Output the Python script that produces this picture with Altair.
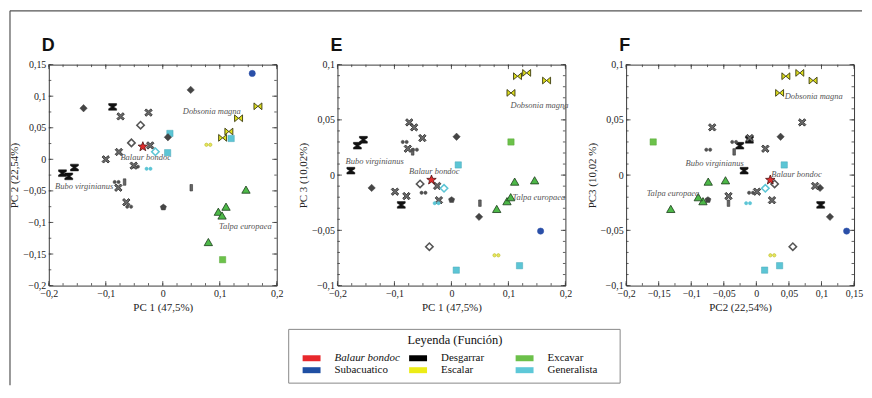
import altair as alt
import pandas as pd

# ---------------- data ----------------
kinds = ["sub", "g_dia", "g_dia", "desg", "g_x", "g_x", "esc_bow", "esc_bow", "esc_bow", "esc_bow",
         "gen_sq", "gen_sq", "g_dia", "g_odia", "g_odia", "balaur", "g_x", "gen_dia", "gen_sq", "esc_oo",
         "g_x", "g_x", "g_oo", "gen_oo", "desg", "desg", "desg", "g_oo", "g_bar", "g_x",
         "g_bar", "g_x", "g_oo", "g_pent", "exc_tri", "exc_tri", "exc_tri", "exc_tri", "exc_tri", "exc_sq",
         "g_x"]

D_x = [0.157, 0.049, -0.139, -0.088, -0.074, -0.025, 0.167, 0.133, 0.116, 0.105,
       0.120, 0.0125, 0.009, -0.039, -0.055, -0.035, -0.022, -0.013, 0.0085, 0.080,
       -0.077, -0.100, -0.047, -0.025, -0.176, -0.165, -0.155, -0.081, -0.067, -0.078,
       0.050, -0.064, -0.059, 0.001, 0.146, 0.0975, 0.104, 0.111, 0.080, 0.105,
       -0.051]
D_y = [0.136, 0.110, 0.081, 0.083, 0.068, 0.074, 0.084, 0.065, 0.044, 0.034,
       0.033, 0.041, 0.035, 0.054, 0.026, 0.020, 0.022, 0.012, 0.0105, 0.023,
       0.0116, 0.0, -0.0116, -0.015, -0.022, -0.027, -0.013, -0.036, -0.036, -0.045,
       -0.045, -0.068, -0.075, -0.076, -0.048, -0.083, -0.089, -0.075, -0.131, -0.159,
       -0.010]

E_x = [0.1565, 0.0485, -0.140, -0.088, -0.074, -0.025, 0.167, 0.132, 0.116, 0.1045,
       0.1195, 0.012, 0.009, -0.0387, -0.055, -0.035, -0.022, -0.013, 0.0085, 0.079,
       -0.0765, -0.099, -0.049, -0.026, -0.1765, -0.165, -0.1545, -0.082, -0.068, -0.079,
       0.050, -0.0655, -0.064, 0.0003, 0.146, 0.0975, 0.104, 0.111, 0.0795, 0.1045,
       -0.051]
E_y = [-0.0507, -0.0378, -0.0116, -0.027, 0.0477, -0.0098, 0.0856, 0.0925, 0.0895, 0.0744,
       -0.082, 0.0092, 0.0347, -0.0648, -0.008, -0.0044, -0.0227, -0.0119, -0.086, -0.0726,
       0.0239, -0.015, -0.016, -0.0254, 0.004, 0.0266, 0.032, 0.030, 0.021, -0.019,
       -0.0254, 0.0432, 0.023, -0.0224, -0.0047, -0.0236, -0.020, -0.0059, -0.0306, 0.030,
       0.0335]

F_x = [0.1386, 0.113, 0.0978, 0.0988, 0.0703, 0.0902, 0.0871, 0.0667, 0.0453, 0.0357,
       0.0357, 0.0428, 0.0372, 0.056, 0.028, 0.0214, 0.024, 0.0138, 0.0127, 0.0245,
       0.0138, 0.001, -0.0082, -0.0127, -0.0188, -0.0255, -0.0107, -0.0341, -0.0341, -0.0428,
       -0.0428, -0.0678, -0.0739, -0.0744, -0.0474, -0.082, -0.0892, -0.0739, -0.1314, -0.1584,
       -0.0102]
F_y = E_y

label_text = ["Dobsonia magna", "Balaur bondoc", "Bubo virginianus", "Talpa europaea"]
D_lab_x = [0.086, -0.030, -0.138, 0.145]
D_lab_y = [0.076, 0.003, -0.043, -0.105]
E_lab_x = [0.1546, -0.030, -0.1348, 0.1534]
E_lab_y = [0.0633, 0.004, 0.0131, -0.0197]
F_lab_x = [0.088, 0.0616, -0.064, -0.128]
F_lab_y = [0.072, 0.001, 0.011, -0.0165]

D_x_major = [-0.2, -0.1, 0.0, 0.1, 0.2]
D_y_major = [-0.2, -0.15, -0.1, -0.05, 0.0, 0.05, 0.1, 0.15]
E_y_major = [-0.1, -0.05, 0.0, 0.05, 0.1]
F_x_major = [-0.2, -0.15, -0.1, -0.05, 0.0, 0.05, 0.1, 0.15]

leg_labels = ["Balaur bondoc", "Subacuatico", "Desgarrar", "Escalar", "Excavar", "Generalista"]
leg_colors = ["#e8282c", "#1f4fa3", "#000000", "#ecec16", "#6cc04a", "#5ec8d8"]
leg_col = [0, 0, 1, 1, 2, 2]
leg_row = [0, 1, 0, 1, 0, 1]
leg_title = "Leyenda (Función)"

# ---------------- styles ----------------
SERIF = "Liberation Serif, DejaVu Serif, serif"
SANS = "Liberation Sans, Arial, sans-serif"
FRAME = "#3a3a3a"
W, H = 229, 222

STAR = ("M0,-1 L0.247,-0.34 L0.951,-0.309 L0.399,0.13 L0.588,0.809 L0,0.42 "
        "L-0.588,0.809 L-0.399,0.13 L-0.951,-0.309 L-0.247,-0.34 Z")
HOURGLASS = "M-1,-0.85 L1,-0.85 L1,-0.45 L0.28,0 L1,0.45 L1,0.85 L-1,0.85 L-1,0.45 L-0.28,0 L-1,-0.45 Z"
BOWTIE = "M-1,-0.85 L0,0 L-1,0.85 Z M1,-0.85 L0,0 L1,0.85 Z"
DOUBLE = ("M-0.06,0 L-0.195,0.325 L-0.52,0.46 L-0.845,0.325 L-0.98,0 L-0.845,-0.325 L-0.52,-0.46 L-0.195,-0.325 Z "
          "M0.98,0 L0.845,0.325 L0.52,0.46 L0.195,0.325 L0.06,0 L0.195,-0.325 L0.52,-0.46 L0.845,-0.325 Z")
XSHAPE = ("M-1,-0.6 L-0.6,-1 L0,-0.4 L0.6,-1 L1,-0.6 L0.4,0 L1,0.6 L0.6,1 "
          "L0,0.4 L-0.6,1 L-1,0.6 L-0.4,0 Z")
BAR = "M-0.4,-1 L0.4,-1 L0.4,1 L-0.4,1 Z"
PENT = "M0,-1 L0.95,-0.31 L0.59,0.81 L-0.59,0.81 L-0.95,-0.31 Z"
SWATCH = "M-1.5,-0.5 L1.5,-0.5 L1.5,0.5 L-1.5,0.5 Z"

kind_domain = ["balaur", "sub", "desg", "esc_bow", "esc_oo", "exc_tri", "exc_sq", "gen_sq", "gen_dia",
               "gen_oo", "g_dia", "g_odia", "g_x", "g_oo", "g_bar", "g_pent"]
shape_range = [STAR, "circle", HOURGLASS, BOWTIE, DOUBLE, "triangle-up", "square", "square", "diamond",
               DOUBLE, "diamond", "diamond", XSHAPE, DOUBLE, BAR, PENT]
size_range = [100, 40, 64, 64, 56, 70, 40, 40, 55, 56, 55, 55, 56, 56, 42, 42]
fill_range = ["#e32b2b", "#2a4fa8", "#111111", "#dede1e", "#e6e65a", "#4db848", "#6cc24a", "#5cc5d5",
              "#ffffff", "#5cc5d5", "#454545", "#ffffff", "#6a6a6a", "#505050", "#666666", "#454545"]
stroke_range = ["#4a1010", "#2a4fa8", "#111111", "#3a3a10", "#b8b830", "#1b3b1b", "#5aa83a", "#46a8b8",
                "#5cc5d5", "#5cc5d5", "#454545", "#555555", "#222222", "#505050", "#333333", "#454545"]
sw_range = [0.8, 0.5, 0.5, 0.9, 0.6, 0.8, 0.5, 0.5, 1.6, 0.5, 0.5, 1.6, 0.8, 0.5, 0.6, 0.5]

LABEL_EXPR = "replace(format(datum.value, '.2~f'), '.', ',')"
ONE = pd.DataFrame({"a": [0]})


def axis(title, values):
    return alt.Axis(title=title, values=values, ticks=False, domain=False, grid=False,
                    labelExpr=LABEL_EXPR, labelFont=SERIF, labelFontSize=10, labelColor="#222",
                    labelPadding=3, labelFlush=False, labelOverlap=False,
                    titleFont=SERIF, titleFontSize=11, titleFontWeight="normal", titleColor="#222",
                    titlePadding=3)


def panel(letter, xs, ys, lx, ly, xdom, ydom, xmaj, xminstep, ymaj, yminstep, xtitle, ytitle):
    X = alt.X("x:Q", scale=alt.Scale(domain=xdom, nice=False, zero=False), axis=axis(xtitle, xmaj))
    Y = alt.Y("y:Q", scale=alt.Scale(domain=ydom, nice=False, zero=False), axis=axis(ytitle, ymaj))
    layers = []
    nx = int(round((xdom[1] - xdom[0]) / xminstep))
    ny = int(round((ydom[1] - ydom[0]) / yminstep))
    xminor = [round(xdom[0] + xminstep * i, 4) for i in range(nx + 1)]
    yminor = [round(ydom[0] + yminstep * i, 4) for i in range(ny + 1)]
    for vals, L in ((xmaj, 4.5), (xminor, 2.5)):
        base = alt.Chart(pd.DataFrame({"x": vals})).mark_rule(color=FRAME, strokeWidth=0.8)
        layers.append(base.encode(x=X, y=alt.value(H), y2=alt.value(H - L)))
        layers.append(base.encode(x=X, y=alt.value(0), y2=alt.value(L)))
    for vals, L in ((ymaj, 4.5), (yminor, 2.5)):
        base = alt.Chart(pd.DataFrame({"y": vals})).mark_rule(color=FRAME, strokeWidth=0.8)
        layers.append(base.encode(y=Y, x=alt.value(0), x2=alt.value(L)))
        layers.append(base.encode(y=Y, x=alt.value(W), x2=alt.value(W - L)))

    pts = pd.DataFrame({"x": xs, "y": ys, "kind": kinds})
    layers.append(
        alt.Chart(pts).mark_point(filled=True, opacity=1).encode(
            x=X, y=Y,
            shape=alt.Shape("kind:N", scale=alt.Scale(domain=kind_domain, range=shape_range), legend=None),
            size=alt.Size("kind:N", scale=alt.Scale(type="ordinal", domain=kind_domain, range=size_range), legend=None),
            fill=alt.Fill("kind:N", scale=alt.Scale(domain=kind_domain, range=fill_range), legend=None),
            stroke=alt.Stroke("kind:N", scale=alt.Scale(domain=kind_domain, range=stroke_range), legend=None),
            strokeWidth=alt.StrokeWidth("kind:N", scale=alt.Scale(type="ordinal", domain=kind_domain, range=sw_range), legend=None),
        )
    )
    labs = pd.DataFrame({"x": lx, "y": ly, "t": label_text})
    layers.append(
        alt.Chart(labs).mark_text(font=SERIF, fontStyle="italic", fontSize=8.5, color="#555555").encode(
            x=X, y=Y, text="t:N")
    )
    # panel letter
    layers.append(
        alt.Chart(pd.DataFrame({"t": [letter]})).mark_text(
            font=SANS, fontSize=18, fontWeight="bold", color="#111111", align="left",
            baseline="alphabetic").encode(text="t:N", x=alt.value(-7), y=alt.value(-14))
    )
    return layers


d_layers = panel("D", D_x, D_y, D_lab_x, D_lab_y, [-0.2, 0.2], [-0.2, 0.15], D_x_major, 0.025,
                 D_y_major, 0.025, "PC 1 (47,5%)", "PC 2 (22,54%)")
# outer figure frame (top and left edges)
d_layers.append(alt.Chart(ONE).mark_rule(color="#555555", strokeWidth=1.2).encode(
    x=alt.value(-39), y=alt.value(-54), y2=alt.value(322)))
d_layers.append(alt.Chart(ONE).mark_rule(color="#555555", strokeWidth=1.2).encode(
    x=alt.value(-39), x2=alt.value(817), y=alt.value(-54)))
view = alt.ViewBackground(stroke=FRAME, strokeWidth=1)
pD = alt.layer(*d_layers).properties(width=W, height=H, view=view)

e_layers = panel("E", E_x, E_y, E_lab_x, E_lab_y, [-0.2, 0.2], [-0.1, 0.1], D_x_major, 0.025,
                 E_y_major, 0.01, "PC 1 (47,5%)", "PC 3 (10,02%)")

# ---------------- legend (drawn below panel E) ----------------
leg = pd.DataFrame({"label": leg_labels, "color": leg_colors, "col": leg_col, "row": leg_row})
LX = alt.X("col:Q", scale=alt.Scale(domain=[0, 2], range=[-26, 188], nice=False, zero=False), axis=None)
LY = alt.Y("row:Q", scale=alt.Scale(domain=[0, 1], range=[295, 307], nice=False, zero=False), axis=None)
box = alt.Chart(ONE).mark_rect(fill="white", stroke="#888888", strokeWidth=1).encode(
    x=alt.value(-49), x2=alt.value(284), y=alt.value(266), y2=alt.value(320))
sw = alt.Chart(leg).mark_point(filled=True, opacity=1, shape=SWATCH, size=144).encode(
    x=LX, y=LY, fill=alt.Fill("color:N", scale=None))
txt_it = alt.Chart(leg).transform_filter("datum.label == 'Balaur bondoc'").mark_text(
    font=SERIF, fontSize=11, fontStyle="italic", align="left", dx=23, color="#111").encode(
    x=LX, y=LY, text="label:N")
txt = alt.Chart(leg).transform_filter("datum.label != 'Balaur bondoc'").mark_text(
    font=SERIF, fontSize=11, align="left", dx=23, color="#111").encode(
    x=LX, y=LY, text="label:N")
ttl = alt.Chart(pd.DataFrame({"t": [leg_title]})).mark_text(
    font=SERIF, fontSize=12.5, color="#111").encode(
    text="t:N", x=alt.value(118), y=alt.value(277))
legend = alt.layer(box, sw, txt_it, txt, ttl)

pE = alt.layer(alt.layer(*e_layers), legend).resolve_scale(
    x="independent", y="independent").properties(width=W, height=H, view=view)

f_layers = panel("F", F_x, F_y, F_lab_x, F_lab_y, [-0.2, 0.15], [-0.1, 0.1], F_x_major, 0.025,
                 E_y_major, 0.01, "PC2 (22,54%)", "PC3 (10,02 %)")
pF = alt.layer(*f_layers).properties(width=W, height=H, view=view)

chart = alt.hconcat(pD, pE, pF, spacing=61, bounds="flush").properties(padding=0)

chart.save("out.html", embed_options={"renderer": "svg", "actions": False})
